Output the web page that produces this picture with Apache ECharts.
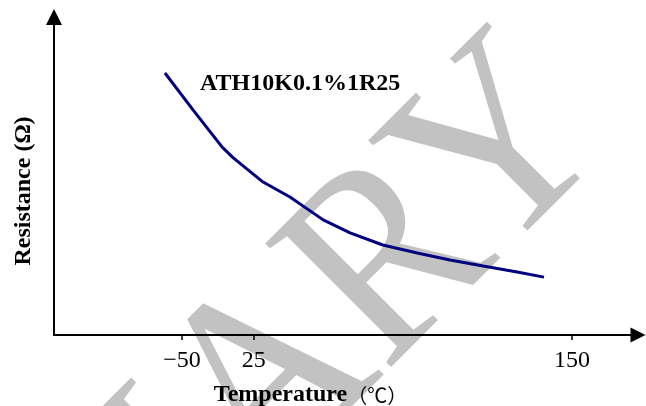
<!DOCTYPE html>
<html>
<head>
<meta charset="utf-8">
<style>
  html, body { margin: 0; padding: 0; background: #fff; }
  #myChart { width: 646px; height: 406px; }
</style>
<script src="https://cdn.jsdelivr.net/npm/echarts@6/dist/echarts.min.js"></script>
</head>
<body>
<div id="myChart"></div>
<script>
// schematic x position (0-100 along the axis) and relative resistance (0-100)
const curveX = [19.0, 23.8, 28.8, 30.7, 35.8, 40.4, 46.1, 50.7, 56.3, 62.2, 67.8, 73.5, 79.3, 83.9]
const curveY = [82.4, 70.8, 59.1, 55.7, 48.1, 43.4, 36.2, 32.1, 28.3, 25.8, 23.6, 21.7, 19.8, 18.2]
// temperature ticks are not evenly spaced in the drawing
const tickPos = [21.9, 34.2, 88.7]
const tickLabels = ['−50', '25', '150']
const seriesName = 'ATH10K0.1%1R25'

let myChart = echarts.init(document.getElementById('myChart'))
myChart.setOption({
  animation: false,
  backgroundColor: '#fff',
  grid: { left: 54, right: 8, top: 17, bottom: 71, outerBoundsMode: 'none', containLabel: false },
  xAxis: {
    type: 'value',
    min: 0,
    max: 100,
    splitLine: { show: false },
    axisLine: {
      lineStyle: { color: '#000', width: 2 },
      symbol: ['none', 'triangle'],
      symbolSize: [15, 15]
    },
    axisTick: {
      customValues: tickPos,
      length: 5,
      lineStyle: { color: '#000', width: 1.5 }
    },
    axisLabel: {
      customValues: tickPos,
      margin: 14,
      color: '#000',
      fontFamily: 'Liberation Serif',
      fontSize: 24,
      formatter: function (v) {
        let i = tickPos.indexOf(v)
        return i >= 0 ? tickLabels[i] : ''
      }
    },
    name: '{b|Temperature}{c|（℃）}',
    nameLocation: 'middle',
    nameGap: 48,
    nameTextStyle: {
      padding: [0, 71, 0, 0],
      rich: {
        b: { fontFamily: 'Liberation Serif', fontWeight: 'bold', fontSize: 24, color: '#000' },
        c: { fontFamily: 'Noto Sans CJK SC', fontSize: 20, color: '#000' }
      }
    }
  },
  yAxis: {
    type: 'value',
    min: 0,
    max: 100,
    splitLine: { show: false },
    axisTick: { show: false },
    axisLabel: { show: false },
    axisLine: {
      show: true,
      lineStyle: { color: '#000', width: 2 },
      symbol: ['none', 'triangle'],
      symbolSize: [16, 16]
    },
    name: 'Resistance (Ω)',
    nameLocation: 'middle',
    nameGap: 18,
    nameTextStyle: {
      fontFamily: 'Liberation Serif',
      fontWeight: 'bold',
      fontSize: 24,
      color: '#000',
      padding: [0, 30, 0, 0]
    }
  },
  graphic: [
    {
      // watermark
      type: 'text',
      x: 566,
      y: 92,
      rotation: Math.PI / 4,
      scaleY: 1.1,
      z: -10,
      style: {
        text: 'PRELIMINARY',
        fontFamily: 'Liberation Serif',
        fontSize: 245,
        fill: '#c2c2c2',
        textAlign: 'right',
        textVerticalAlign: 'middle'
      }
    },
    {
      type: 'text',
      left: 200,
      top: 72,
      style: {
        text: seriesName,
        fontFamily: 'Liberation Serif',
        fontWeight: 'bold',
        fontSize: 24,
        fill: '#000'
      }
    }
  ],
  series: [
    {
      name: seriesName,
      type: 'line',
      showSymbol: false,
      smooth: false,
      lineStyle: { color: '#000080', width: 3 },
      data: curveX.map((x, i) => [x, curveY[i]])
    }
  ]
})
</script>
</body>
</html>
